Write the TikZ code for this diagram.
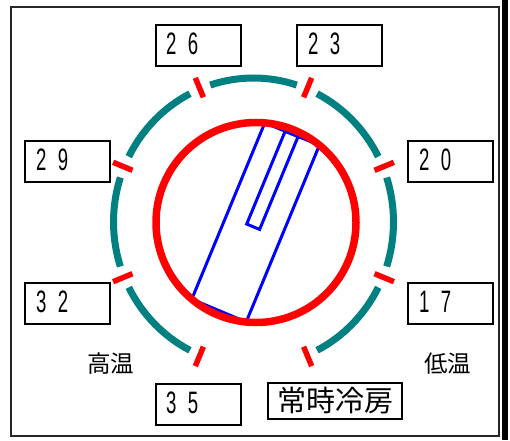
\documentclass[tikz,border=0pt]{standalone}
\usepackage{fontspec}
\setmainfont{Liberation Sans}
\newfontfamily\cjk{Noto Sans CJK JP}
\definecolor{ringteal}{RGB}{0,128,128}
\newcommand\twodig[2]{\scalebox{0.6}[1]{#1\hspace{19pt}#2}}
\begin{document}
\begin{tikzpicture}[x=1pt,y=1pt,
  ring/.style={ringteal, line width=7pt},
  tickmark/.style={red, line width=5.5pt},
  numbox/.style={draw, line width=2pt, minimum width=85pt, minimum height=41pt, inner sep=0pt},
  numtxt/.style={inner sep=0pt, anchor=west, font=\fontsize{31}{31}\selectfont},
  knob/.style={blue, line width=3pt},
  cjklabel/.style={inner sep=0pt, font=\cjk\fontsize{23.5}{23.5}\selectfont},
]
\useasboundingbox (0,0) rectangle (510,440);
\fill[white] (0,0) rectangle (510,440);
\draw[line width=2pt, black!85] (11,4) rectangle (499,433);
\fill[black] (502,0) rectangle (508,440);

\coordinate (C) at (253.5,218);
\foreach \s/\e in {27/63, 72/108, 117/153, 162/198, 207/243, 297/333, 342/378}{
  \draw[ring] ([shift={(\s:140pt and 144pt)}]C) arc[start angle=\s, end angle=\e, x radius=140pt, y radius=144pt];
}
\foreach \a in {22.5,67.5,...,337.5}{
  \draw[tickmark] ([shift={(\a:131pt and 135pt)}]C) -- ([shift={(\a:152pt and 156pt)}]C);
}

\begin{scope}[shift={(256,217.5)}, rotate=-22.5]
  \draw[knob] (-30,-95.4) -- (-30,95.4) -- (29,95.7) -- (29,-95.7) -- cycle;
  \draw[knob] (-8,-5) rectangle (6,95.5);
\end{scope}
\draw[red, line width=7.5pt] (256,217.5) circle[radius=100pt];

\node[numbox] (b26) at (198.5,394.5) {};
\node[numbox] (b23) at (339.5,394.5) {};
\node[numbox] (b29) at (67.5,278.5) {};
\node[numbox] (b20) at (450.5,278.5) {};
\node[numbox] (b32) at (67.5,137) {};
\node[numbox] (b17) at (450.5,137) {};
\node[numbox] (b35) at (198.5,36) {};

\node[numtxt] (t26) at ([xshift=11pt,yshift=1.5pt]b26.west) {\twodig{2}{6}};
\node[numtxt] (t23) at ([xshift=12pt,yshift=1.5pt]b23.west) {\twodig{2}{3}};
\node[numtxt] (t29) at ([xshift=12pt,yshift=1.5pt]b29.west) {\twodig{2}{9}};
\node[numtxt] (t20) at ([xshift=12pt,yshift=1.5pt]b20.west) {\twodig{2}{0}};
\node[numtxt] (t32) at ([xshift=12pt,yshift=1.5pt]b32.west) {\twodig{3}{2}};
\node[numtxt] (t17) at ([xshift=12pt,yshift=1.5pt]b17.west) {\twodig{1}{7}};
\node[numtxt] (t35) at ([xshift=11pt,yshift=1.5pt]b35.west) {\twodig{3}{5}};

\node[draw, line width=2pt, minimum width=134pt, minimum height=36pt, inner sep=0pt,
      font=\cjk\fontsize{29}{29}\selectfont] (bj) at (335,39) {常時冷房};
\node[cjklabel] (hi) at (110.8,76) {高温};
\node[cjklabel] (lo) at (447.5,76) {低温};
\end{tikzpicture}
\end{document}
